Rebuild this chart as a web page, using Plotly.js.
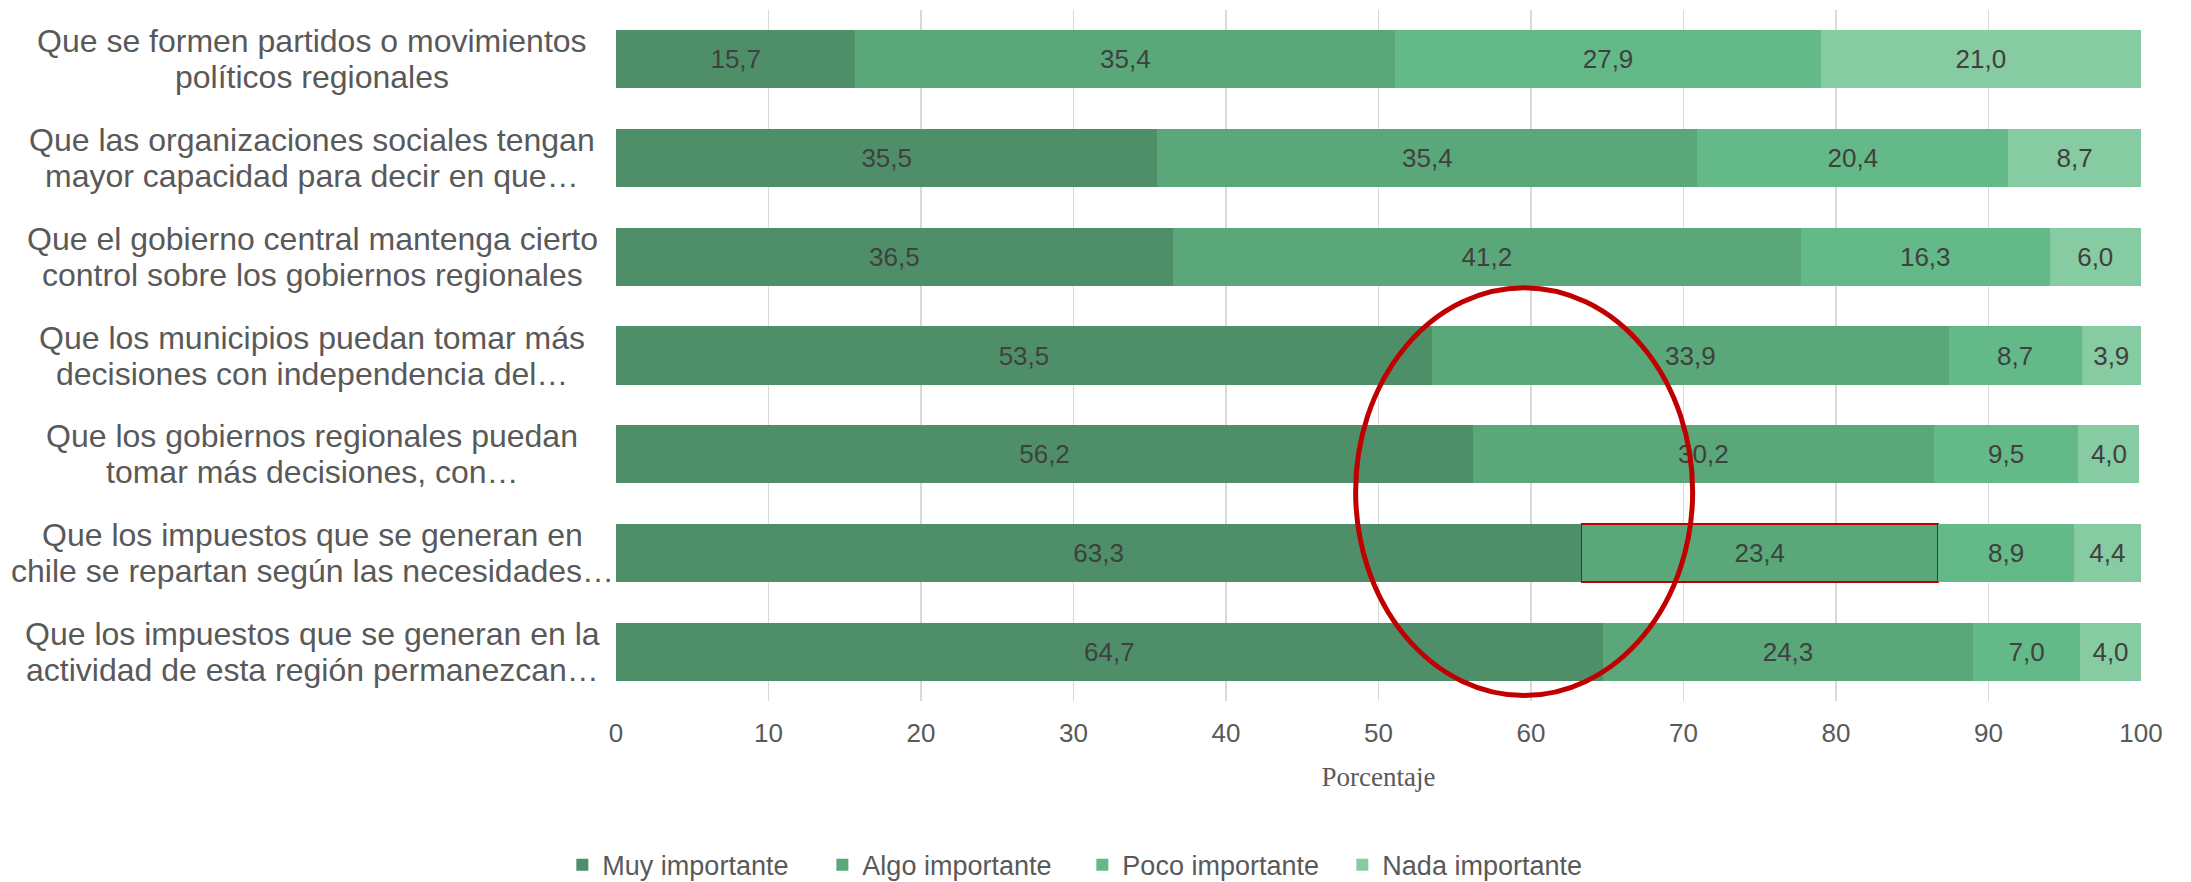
<!DOCTYPE html>
<html>
<head>
<meta charset="utf-8">
<script src="https://cdn.plot.ly/plotly-3.0.1.min.js"></script>
<style>html,body{margin:0;padding:0;background:#fff;}#chart{width:2191px;height:882px;}</style>
</head>
<body>
<div id="chart"></div>
<script>
// Categories, top to bottom
var categories = [
  "Que se formen partidos o movimientos<br>políticos regionales",
  "Que las organizaciones sociales tengan<br>mayor capacidad para decir en que…",
  "Que el gobierno central mantenga cierto<br>control sobre los gobiernos regionales",
  "Que los municipios puedan tomar más<br>decisiones con independencia del…",
  "Que los gobiernos regionales puedan<br>tomar más decisiones, con…",
  "Que los impuestos que se generan en<br>chile se repartan según las necesidades…",
  "Que los impuestos que se generan en la<br>actividad de esta región permanezcan…"
];
var seriesNames = ["Muy importante", "Algo importante", "Poco importante", "Nada importante"];
var muyImportante  = [15.7, 35.5, 36.5, 53.5, 56.2, 63.3, 64.7];
var algoImportante = [35.4, 35.4, 41.2, 33.9, 30.2, 23.4, 24.3];
var pocoImportante = [27.9, 20.4, 16.3, 8.7, 9.5, 8.9, 7.0];
var nadaImportante = [21.0, 8.7, 6.0, 3.9, 4.0, 4.4, 4.0];
var xTicks = [0, 10, 20, 30, 40, 50, 60, 70, 80, 90, 100];
var highlightedRow = 5; // boxed segment (Algo importante)

var colors = ["#4E8F69", "#5AA77A", "#63B987", "#86CBA1"];
var values = [muyImportante, algoImportante, pocoImportante, nadaImportante];

var traces = values.map(function (vals, i) {
  var lineW = categories.map(function (c, j) { return (i === 1 && j === highlightedRow) ? 1.6 : 0; });
  return {
    type: "bar",
    orientation: "h",
    name: seriesNames[i],
    y: categories,
    x: vals,
    marker: { color: colors[i], line: { color: "#C00000", width: lineW } },
    texttemplate: "%{x:.1f}",
    textposition: "inside",
    insidetextanchor: "middle",
    textangle: 0,
    constraintext: "none",
    textfont: { family: "Liberation Sans, Arial, sans-serif", size: 26, color: "#404040" },
    hoverinfo: "skip"
  };
});

// Category labels as centered two-line text blocks (one annotation per line)
var annotations = [];
categories.forEach(function (cat) {
  var lines = cat.split("<br>");
  lines.forEach(function (ln, k) {
    annotations.push({
      xref: "paper", yref: "y",
      x: 0, y: cat,
      xshift: -304,
      yshift: (lines.length === 1) ? 0 : (k === 0 ? 18 : -18),
      xanchor: "center", yanchor: "middle",
      text: ln, showarrow: false,
      font: { family: "Liberation Sans, Arial, sans-serif", size: 32, color: "#595959" }
    });
  });
});

var layout = {
  width: 2191, height: 882,
  margin: { l: 616, r: 50, t: 10, b: 181, pad: 0 },
  paper_bgcolor: "#ffffff", plot_bgcolor: "#ffffff",
  barmode: "stack",
  bargap: 0.412,
  separators: ",.",
  font: { family: "Liberation Sans, Arial, sans-serif", color: "#595959" },
  showlegend: true,
  legend: {
    orientation: "h",
    xref: "container", yref: "container",
    x: 0.4940, y: 0.019, xanchor: "center", yanchor: "middle",
    font: { family: "Liberation Sans, Arial, sans-serif", size: 27, color: "#595959" },
    traceorder: "normal",
    entrywidth: 215
  },
  xaxis: {
    range: [0, 100],
    tickvals: xTicks,
    ticktext: xTicks.map(String),
    showgrid: true, gridcolor: "#D9D9D9", gridwidth: 1.5,
    zeroline: false, showline: false, ticks: "",
    ticklabelstandoff: 14,
    tickfont: { family: "Liberation Sans, Arial, sans-serif", size: 26, color: "#595959" },
    title: { text: "Porcentaje", font: { family: "Liberation Serif, Times New Roman, serif", size: 27, color: "#595959" }, standoff: 20 },
    fixedrange: true
  },
  yaxis: {
    type: "category",
    autorange: "reversed",
    showticklabels: false,
    showgrid: false, zeroline: false, showline: false, ticks: "",
    fixedrange: true
  },
  annotations: annotations,
  shapes: [{
    type: "circle", xref: "x", yref: "paper",
    x0: 48.5, x1: 70.6, y0: 0.008, y1: 0.598,
    line: { color: "#C00000", width: 5 },
    layer: "above"
  }]
};

Plotly.newPlot("chart", traces, layout, { staticPlot: true, displayModeBar: false });
</script>
</body>
</html>
